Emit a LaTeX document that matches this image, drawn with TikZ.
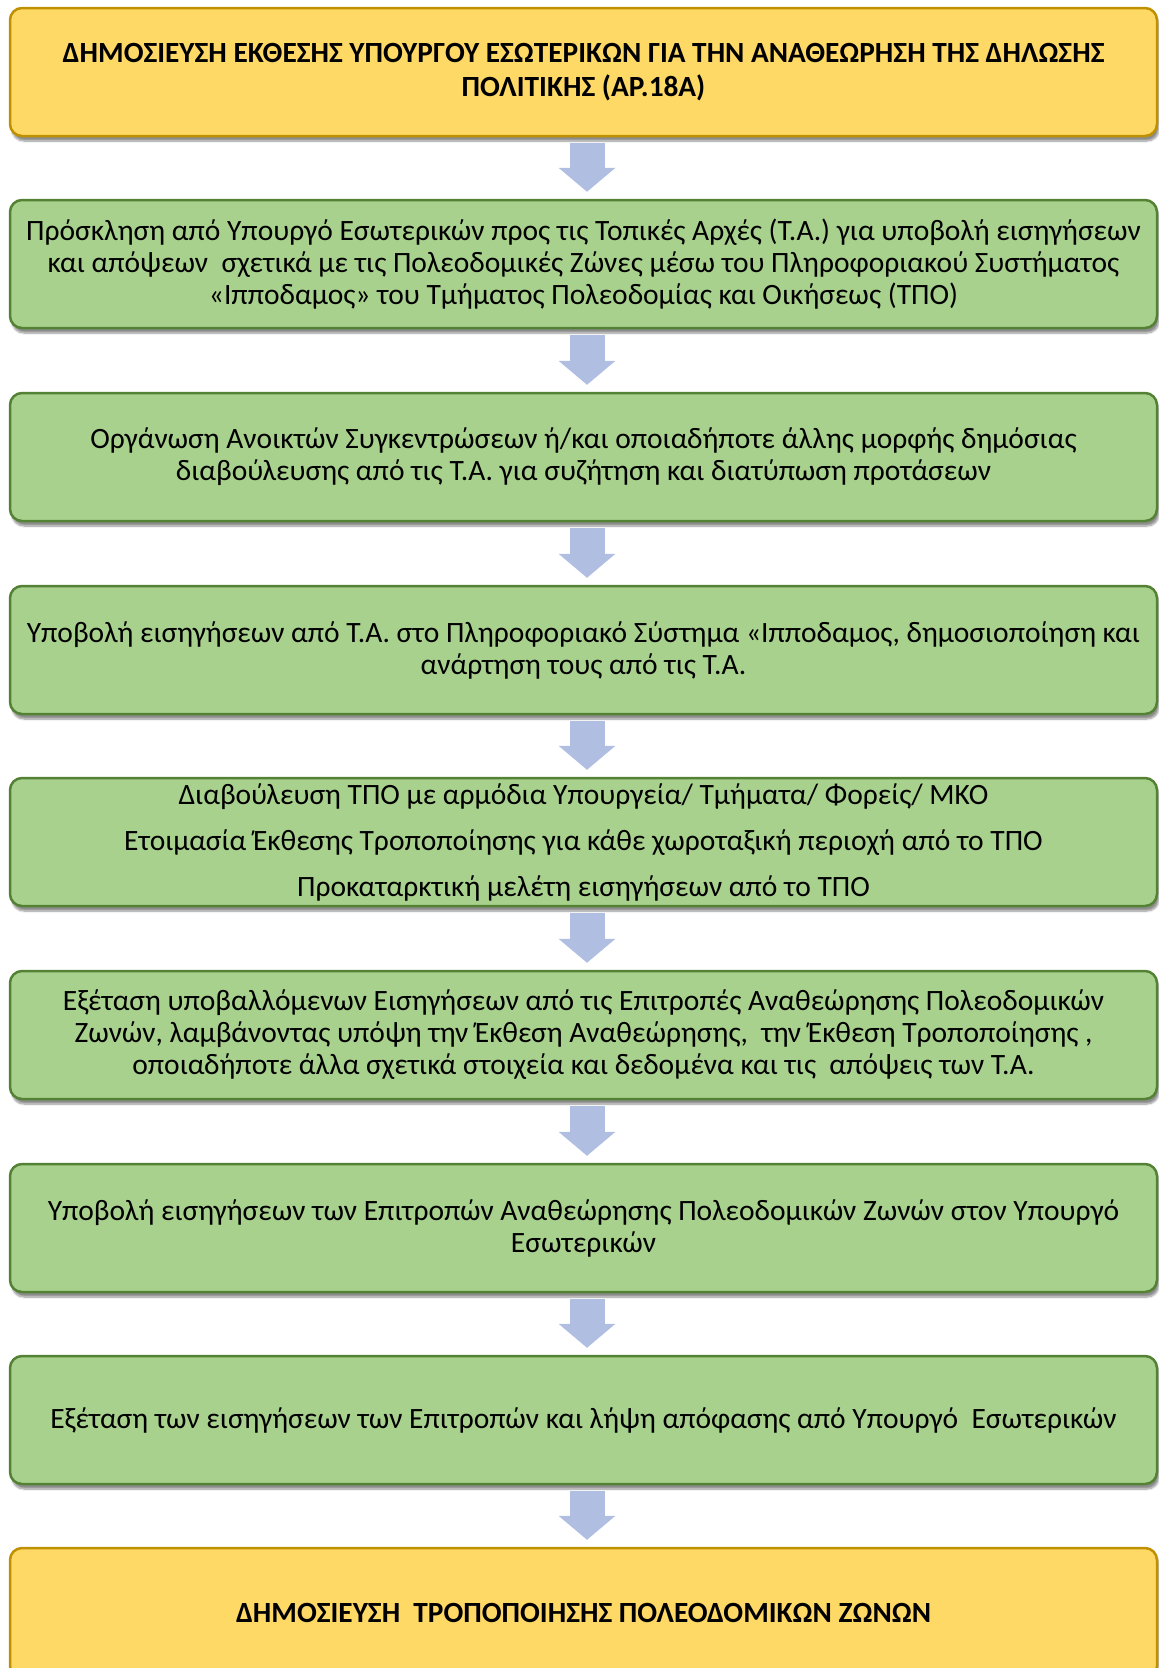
\documentclass[tikz,border=0pt]{standalone}
\usepackage{fontspec}
\setmainfont{Carlito}
\usetikzlibrary{arrows.meta,shadows.blur}
\definecolor{EndsClr}{RGB}{255,217,102}
\definecolor{EndsLineClr}{RGB}{191,144,0}
\definecolor{StepClr}{RGB}{169,209,142}
\definecolor{StepLineClr}{RGB}{84,130,53}
\definecolor{FlowClr}{RGB}{176,190,226}

\begin{document}
\begin{tikzpicture}[x=1pt,y=-1pt,
  box/.style={rounded corners=12pt,line width=2.5pt,minimum width=1147pt,minimum height=128pt,
    align=center,text=black,font=\fontsize{29.5}{32}\selectfont,
    blur shadow={shadow xshift=2pt,shadow yshift=-5pt,shadow blur steps=8,shadow opacity=45}},
  endsbox/.style={box,fill=EndsClr,draw=EndsLineClr,font=\fontsize{29.3}{34}\selectfont\bfseries},
  stepbox/.style={box,fill=StepClr,draw=StepLineClr},
  flow/.style={FlowClr,line width=35pt,-{Triangle[width=57pt,length=24pt,line width=0pt]}}]
\useasboundingbox (0,0) rectangle (1159,1668);

\node[endsbox] (publish) at (583.5,72) {ΔΗΜΟΣΙΕΥΣΗ ΕΚΘΕΣΗΣ ΥΠΟΥΡΓΟΥ ΕΣΩΤΕΡΙΚΩΝ ΓΙΑ ΤΗΝ ΑΝΑΘΕΩΡΗΣΗ ΤΗΣ ΔΗΛΩΣΗΣ\\ΠΟΛΙΤΙΚΗΣ (ΑΡ.18Α)};

\node[stepbox] (invite) at (583.5,264) {Πρόσκληση από Υπουργό Εσωτερικών προς τις Τοπικές Αρχές (Τ.Α.) για υποβολή εισηγήσεων\\και απόψεων\ \ σχετικά με τις Πολεοδομικές Ζώνες μέσω του Πληροφοριακού Συστήματος\\«Ιπποδαμος» του Τμήματος Πολεοδομίας και Οικήσεως (ΤΠΟ)};

\node[stepbox] (meetings) at (583.5,457) {Οργάνωση Ανοικτών Συγκεντρώσεων ή/και οποιαδήποτε άλλης μορφής δημόσιας\\διαβούλευσης από τις Τ.Α. για συζήτηση και διατύπωση προτάσεων};

\node[stepbox] (submit) at (583.5,650) {Υποβολή εισηγήσεων από Τ.Α. στο Πληροφοριακό Σύστημα «Ιπποδαμος, δημοσιοποίηση και\\ανάρτηση τους από τις Τ.Α.};

\node[stepbox] (consult) at (583.5,842) {Διαβούλευση ΤΠΟ με αρμόδια Υπουργεία/ Τμήματα/ Φορείς/ ΜΚΟ\\[14pt]Ετοιμασία Έκθεσης Τροποποίησης για κάθε χωροταξική περιοχή από το ΤΠΟ\\[14pt]Προκαταρκτική μελέτη εισηγήσεων από το ΤΠΟ};

\node[stepbox] (review) at (583.5,1035) {Εξέταση υποβαλλόμενων Εισηγήσεων από τις Επιτροπές Αναθεώρησης Πολεοδομικών\\Ζωνών, λαμβάνοντας υπόψη την Έκθεση Αναθεώρησης,\ \ την Έκθεση Τροποποίησης ,\\οποιαδήποτε άλλα σχετικά στοιχεία και δεδομένα και τις\ \ απόψεις των Τ.Α.};

\node[stepbox] (committee) at (583.5,1228) {Υποβολή εισηγήσεων των Επιτροπών Αναθεώρησης Πολεοδομικών Ζωνών στον Υπουργό\\Εσωτερικών};

\node[stepbox] (decision) at (583.5,1420) {Εξέταση των εισηγήσεων των Επιτροπών και λήψη απόφασης από Υπουργό\ \ Εσωτερικών};

\node[endsbox,minimum height=130pt] (zones) at (583.5,1613) {ΔΗΜΟΣΙΕΥΣΗ\ \ ΤΡΟΠΟΠΟΙΗΣΗΣ ΠΟΛΕΟΔΟΜΙΚΩΝ ΖΩΝΩΝ};

\foreach \a/\b in {publish/invite,invite/meetings,meetings/submit,submit/consult,
  consult/review,review/committee,committee/decision,decision/zones}
  \draw[flow] ([xshift=3.5pt,yshift=-6pt]\a.south) -- ([xshift=3.5pt,yshift=7pt]\b.north);

\end{tikzpicture}
\end{document}
